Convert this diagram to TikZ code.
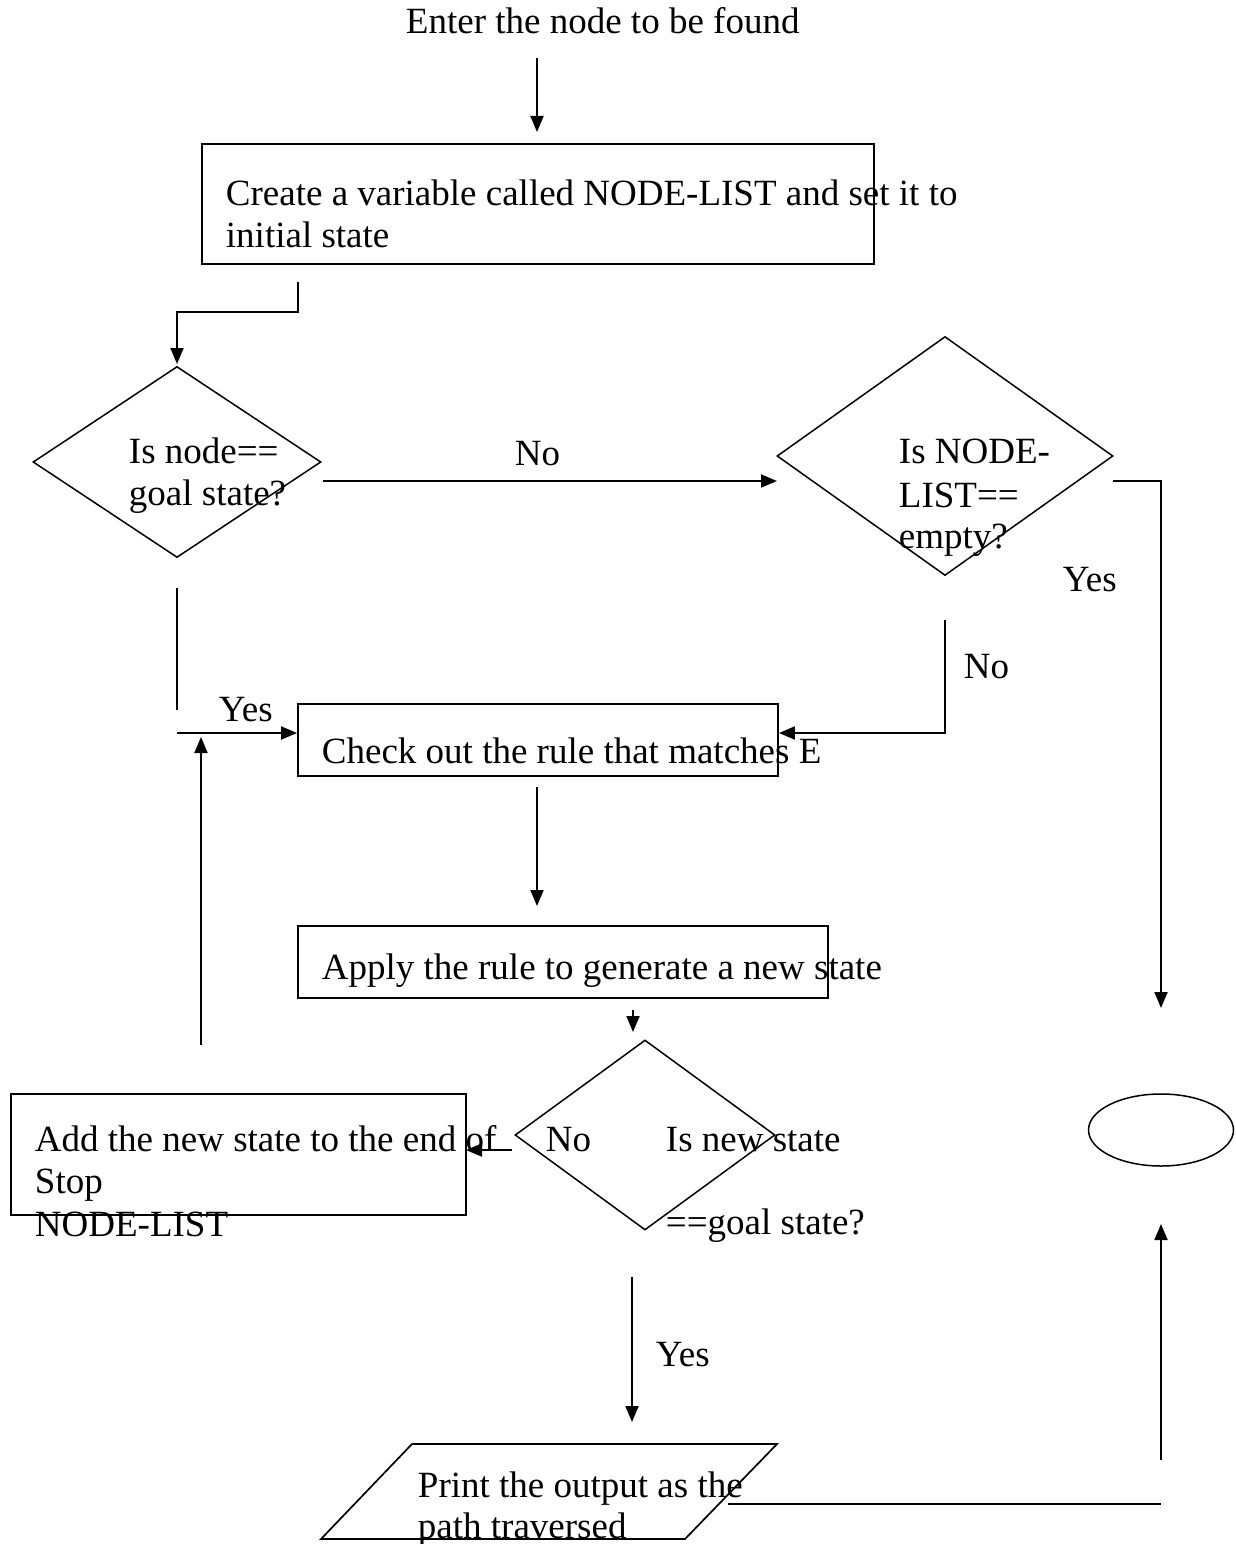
\documentclass[tikz,border=0pt]{standalone}
\usepackage{fontspec}
\setmainfont{Liberation Serif}
\usetikzlibrary{shapes.geometric,arrows.meta}
\begin{document}
\begin{tikzpicture}[x=1pt,y=-1pt,
  line width=1.9pt,
  >={Triangle[length=16pt,width=13pt]},
  box/.style={draw,rectangle,inner sep=0pt,anchor=north west,line width=1.9pt},
  dia/.style={draw,diamond,inner sep=0pt,line width=1.5pt},
  txt/.style={anchor=base west,inner sep=0pt,font=\fontsize{37}{42.5}\selectfont},
  conn/.style={line width=1.9pt}
]
\useasboundingbox (0,0) rectangle (1236,1544);

% title
\node[txt] (title) at (405,34) {Enter the node to be found};

% box 1
\node[box,minimum width=672pt,minimum height=120pt] (b1) at (201,143) {};
\node[txt] (b1a) at (225,205) {Create a variable called NODE-LIST and set it to};
\node[txt] (b1b) at (225,247) {initial state};

% diamond 1
\node[dia,minimum width=288pt,minimum height=191pt] (d1) at (177,462) {};
\node[txt] (d1a) at (128,463) {Is node==};
\node[txt] (d1b) at (128,505) {goal state?};

% diamond 2
\node[dia,minimum width=336pt,minimum height=239pt] (d2) at (945,456) {};
\node[txt] (d2a) at (898,463) {Is NODE-};
\node[txt] (d2b) at (898,507) {LIST==};
\node[txt] (d2c) at (898,548) {empty?};

% box 2
\node[box,minimum width=480pt,minimum height=72pt] (b2) at (297,703) {};
\node[txt] (b2a) at (321,763) {Check out the rule that matches E};

% box 3
\node[box,minimum width=530pt,minimum height=72pt] (b3) at (297,925) {};
\node[txt] (b3a) at (321,979) {Apply the rule to generate a new state};

% diamond 3
\node[dia,minimum width=260pt,minimum height=190pt] (d3) at (645,1135) {};
\node[txt] (d3a) at (665,1151) {Is new state};
\node[txt] (d3b) at (665,1234) {==goal state?};

% box 4
\node[box,minimum width=455pt,minimum height=121pt] (b4) at (10,1093) {};
\node[txt] (b4a) at (34,1151) {Add the new state to the end of};
\node[txt] (b4b) at (34,1193) {Stop};
\node[txt] (b4c) at (34,1236) {NODE-LIST};

% ellipse
\node[draw,ellipse,inner sep=0pt,line width=1.5pt,minimum width=145pt,minimum height=72pt] (stop) at (1161,1130) {};

% parallelogram
\coordinate (p1) at (412,1444);
\coordinate (p2) at (777,1444);
\coordinate (p3) at (685,1539);
\coordinate (p4) at (321,1539);
\draw[line width=1.7pt] (p1) -- (p2) -- (p3) -- (p4) -- cycle;
\node[txt] (pa) at (417,1497) {Print the output as the};
\node[txt] (pb) at (417,1538) {path traversed};

% labels
\node[txt] (lno1) at (514,465) {No};
\node[txt] (lyes1) at (1062,591) {Yes};
\node[txt] (lno2) at (963,678) {No};
\node[txt] (lyes2) at (218,721) {Yes};
\node[txt] (lno3) at (545,1151) {No};
\node[txt] (lyes3) at (655,1366) {Yes};

% connector end points
\coordinate (c0s) at (537,58);
\coordinate (c0e) at (537,132);
\coordinate (c1s) at (298,282);
\coordinate (c1m) at (298,312);
\coordinate (c1e) at (177,364);
\coordinate (c2s) at (323,481);
\coordinate (c2e) at (777,481);
\coordinate (c3s) at (1113,481);
\coordinate (c3e) at (1161,1008);
\coordinate (c4s) at (945,620);
\coordinate (c4m) at (945,733);
\coordinate (c5s) at (177,588);
\coordinate (c5e) at (177,710);
\coordinate (c6s) at (177,733);
\coordinate (c7s) at (201,1045);
\coordinate (c7e) at (201,737);
\coordinate (c8s) at (537,787);
\coordinate (c8e) at (537,906);
\coordinate (c9s) at (633,1010);
\coordinate (c9e) at (633,1032);
\coordinate (c10s) at (512,1150);
\coordinate (c10e) at (466,1150);
\coordinate (c11s) at (632,1277);
\coordinate (c11e) at (632,1422);
\coordinate (c12s) at (728,1504);
\coordinate (c12m) at (1161,1504);
\coordinate (c13s) at (1161,1460);
\coordinate (c13e) at (1161,1224);

\draw[conn,->] (c0s) -- (c0e);
\draw[conn,->] (c1s) -- (c1m) -| (c1e);
\draw[conn,->] (c2s) -- (c2e);
\draw[conn,->] (c3s) -| (c3e);
\draw[conn,->] (c4s) -- (c4m) -- (b2.east |- c4m);
\draw[conn] (c5s) -- (c5e);
\draw[conn,->] (c6s) -- (b2.west |- c6s);
\draw[conn,->] (c7s) -- (c7e);
\draw[conn,->] (c8s) -- (c8e);
\draw[conn,->] (c9s) -- (c9e);
\draw[conn,->] (c10s) -- (c10e);
\draw[conn,->] (c11s) -- (c11e);
\draw[conn] (c12s) -- (c12m);
\draw[conn,->] (c13s) -- (c13e);
\end{tikzpicture}
\end{document}
